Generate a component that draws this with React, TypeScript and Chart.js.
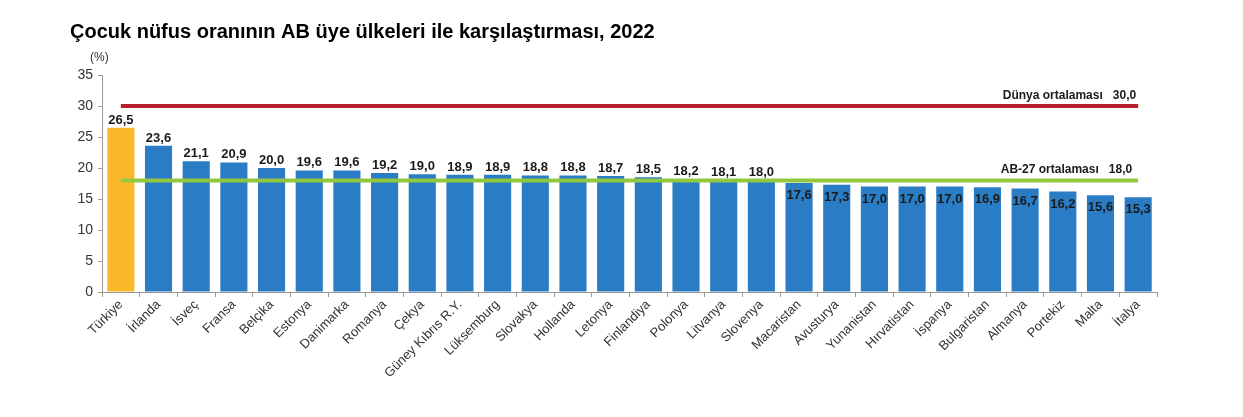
import React, { useEffect, useRef } from "react";
import { Chart, registerables } from "chart.js";

Chart.register(...registerables);

const countries = [
  "Türkiye", "İrlanda", "İsveç", "Fransa", "Belçika", "Estonya", "Danimarka", "Romanya", "Çekya",
  "Güney Kıbrıs R.Y.", "Lüksemburg", "Slovakya", "Hollanda", "Letonya", "Finlandiya", "Polonya",
  "Litvanya", "Slovenya", "Macaristan", "Avusturya", "Yunanistan", "Hırvatistan", "İspanya",
  "Bulgaristan", "Almanya", "Portekiz", "Malta", "İtalya",
];
const childShare = [
  26.5, 23.6, 21.1, 20.9, 20.0, 19.6, 19.6, 19.2, 19.0, 18.9, 18.9, 18.8, 18.8, 18.7, 18.5, 18.2,
  18.1, 18.0, 17.6, 17.3, 17.0, 17.0, 17.0, 16.9, 16.7, 16.2, 15.6, 15.3,
];
const worldAverage = 30.0;
const euAverage = 18.0;
const yTicks = [0, 5, 10, 15, 20, 25, 30, 35];

const TITLE = "Çocuk nüfus oranının AB üye ülkeleri ile karşılaştırması, 2022";
const FONT = "'Liberation Sans', Arial, sans-serif";
const fmt = (v: number) => v.toFixed(1).replace(".", ",");

const overlayPlugin = {
  id: "overlay",
  afterDatasetsDraw(chart: any) {
    const ctx = chart.ctx;
    const x = chart.scales.x;
    const y = chart.scales.y;
    ctx.save();
    const meta = chart.getDatasetMeta(2);
    ctx.font = `bold 13px ${FONT}`;
    ctx.fillStyle = "#1a1a1a";
    ctx.textAlign = "center";
    meta.data.forEach((bar: any, i: number) => {
      const v = childShare[i];
      if (v < euAverage) {
        ctx.textBaseline = "top";
        ctx.fillText(fmt(v), bar.x, bar.y + 6);
      } else {
        ctx.textBaseline = "alphabetic";
        ctx.fillText(fmt(v), bar.x, bar.y - 4);
      }
    });
    const lastX = x.getPixelForValue(countries.length - 1);
    ctx.font = `bold 12px ${FONT}`;
    ctx.textAlign = "right";
    ctx.textBaseline = "alphabetic";
    ctx.fillText(`Dünya ortalaması   ${fmt(worldAverage)}`, lastX - 2, y.getPixelForValue(worldAverage) - 7);
    ctx.fillText(`AB-27 ortalaması   ${fmt(euAverage)}`, lastX - 6, y.getPixelForValue(euAverage) - 7);
    ctx.restore();
  },
  afterDraw(chart: any) {
    const ctx = chart.ctx;
    ctx.save();
    ctx.fillStyle = "#000";
    ctx.font = `bold 20px ${FONT}`;
    ctx.textAlign = "left";
    ctx.textBaseline = "alphabetic";
    ctx.fillText(TITLE, 62, 30);
    ctx.font = `12px ${FONT}`;
    ctx.fillStyle = "#333";
    ctx.fillText("(%)", 82, 53);
    ctx.restore();
  },
};

export default function App() {
  const ref = useRef<HTMLCanvasElement>(null);
  useEffect(() => {
    if (!ref.current) return;
    const chart = new Chart(ref.current, {
      type: "bar",
      data: {
        labels: countries,
        datasets: [
          {
            type: "line",
            data: countries.map(() => worldAverage),
            borderColor: "#B5202A",
            borderWidth: 4,
            pointRadius: 0,
            order: 0,
          } as any,
          {
            type: "line",
            data: countries.map(() => euAverage),
            borderColor: "#92C83E",
            borderWidth: 4,
            pointRadius: 0,
            order: 0,
          } as any,
          {
            type: "bar",
            data: childShare,
            backgroundColor: childShare.map((_, i) => (i === 0 ? "#FBB829" : "#2A7DC4")),
            categoryPercentage: 1,
            barPercentage: 0.72,
            order: 1,
          },
        ],
      },
      options: {
        animation: false,
        responsive: true,
        maintainAspectRatio: false,
        layout: { padding: { top: 67, right: 78, bottom: 0, left: 0 } },
        plugins: { legend: { display: false }, tooltip: { enabled: false }, title: { display: false } },
        scales: {
          x: {
            offset: true,
            afterFit: (s: any) => { s.height = 117; },
            grid: { display: true, drawOnChartArea: false, drawTicks: true, tickLength: 5, offset: true, color: "#9a9a9a" },
            border: { color: "#9a9a9a", width: 1 },
            ticks: {
              autoSkip: false,
              maxRotation: 45,
              minRotation: 45,
              color: "#333",
              font: { family: FONT, size: 13 },
              padding: 0,
            },
          },
          y: {
            min: 0,
            max: 35,
            afterFit: (s: any) => { s.width = 94; },
            afterBuildTicks: (s: any) => { s.ticks = yTicks.map((v) => ({ value: v })); },
            grid: { display: true, drawOnChartArea: false, drawTicks: true, tickLength: 4, color: "#9a9a9a" },
            border: { color: "#9a9a9a", width: 1 },
            ticks: { color: "#333", font: { family: FONT, size: 14 }, padding: 5 },
          },
        },
      },
      plugins: [overlayPlugin],
    });
    return () => chart.destroy();
  }, []);
  return (
    <div style={{ width: 1227, height: 401, position: "relative" }}>
      <canvas ref={ref} />
    </div>
  );
}
